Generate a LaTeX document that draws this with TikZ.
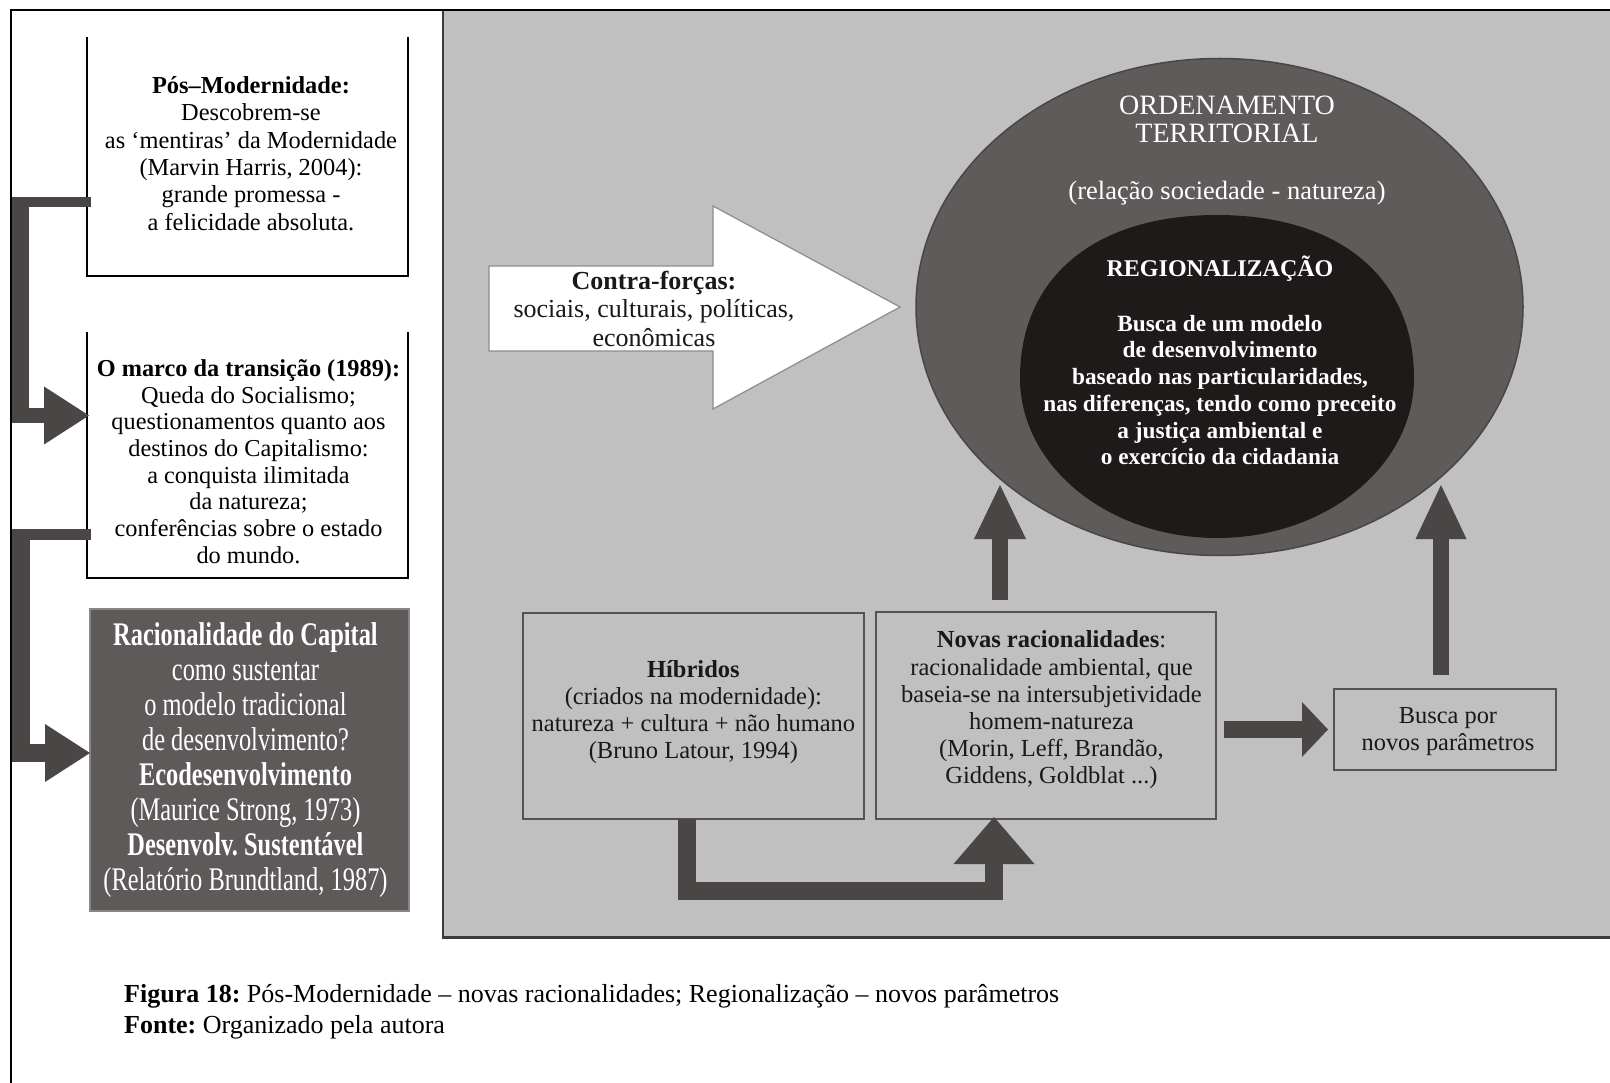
\documentclass[tikz,border=0pt]{standalone}
\usepackage{fontspec}
\setmainfont{Liberation Serif}
\newfontfamily\narrowserif[FakeStretch=0.74]{Liberation Serif}
\usetikzlibrary{arrows.meta,shapes.geometric,calc}
\frenchspacing

\definecolor{panelgray}{HTML}{C0C0C0}
\definecolor{paneledge}{HTML}{3C3A3A}
\definecolor{ringgray}{HTML}{5F5B5A}
\definecolor{ringedge}{HTML}{4A4646}
\definecolor{coreblack}{HTML}{1E1A1A}
\definecolor{bargray}{HTML}{4A4646}
\definecolor{capgray}{HTML}{5E5A59}
\definecolor{capedge}{HTML}{8A8686}
\definecolor{edgegray}{HTML}{575353}
\definecolor{arrowedge}{HTML}{8C8C8C}
\definecolor{inkdark}{HTML}{1A1818}

\newcommand\fsz[2]{\fontsize{#1}{#2}\selectfont}

\tikzset{
  txt/.style={inner sep=0pt, outer sep=0pt, align=center, text=inkdark},
  whitetxt/.style={inner sep=0pt, outer sep=0pt, align=center, text=white},
  openbox/.style={inner sep=0pt, outer sep=0pt, minimum width=321pt},
  openline/.style={draw=black, line width=2pt},
  panelbox/.style={draw=edgegray, line width=2pt, inner sep=0pt, outer sep=0pt},
  feed/.style={draw=bargray, line cap=butt},
  bararrow/.style={draw=bargray, fill=bargray, line cap=butt, line join=miter},
}

\begin{document}
\begin{tikzpicture}[x=1pt,y=-1pt]
\useasboundingbox (0,0) rectangle (1610,1083);
\fill[white] (0,0) rectangle (1610,1083);

% grey working area and page frame
\fill[panelgray] (443,10) rectangle (1610,937);
\draw[paneledge, line width=2pt] (443,10) -- (443,937);
\draw[paneledge, line width=3pt] (442,937) -- (1610,937);
\draw[black, line width=2pt] (11,1083) -- (11,10) -- (1610,10);

% territorial ordering (outer ring)
\node[ellipse, fill=ringgray, draw=ringedge, line width=1.5pt,
      minimum width=607pt, minimum height=497pt, inner sep=0pt, outer sep=0pt]
      (ordem) at (1219.5,307) {};
% regionalisation core: fuller at the top than at the bottom
\fill[coreblack] (1414,378)
  .. controls (1414,277) and (1339,215) .. (1217,215)
  .. controls (1095,215) and (1020,277) .. (1020,378)
  .. controls (1020,466) and (1108,538) .. (1217,538)
  .. controls (1326,538) and (1414,466) .. (1414,378) -- cycle;

% counter-forces block arrow
\coordinate (cftip) at ([xshift=-16pt]ordem.west);
\filldraw[fill=white, draw=arrowedge, line width=1.2pt, line join=miter]
  (cftip) -- ++(-187,-101) -- ++(0,60) -- ++(-224,0) -- ++(0,85)
  -- ++(224,0) -- ++(0,58) -- cycle;
\node[txt, font=\fsz{26}{28.5}] (contra) at (654,308.5)
  {\textbf{Contra-forças:}\\sociais, culturais, políticas,\\econômicas};

% left column
\node[openbox, minimum height=239pt] (pomo) at (247.5,156.5) {};
\draw[openline] (pomo.north west) -- (pomo.south west) -- (pomo.south east) -- (pomo.north east);
\node[txt, text=black, font=\fsz{24.4}{27.4}] (pomotxt) at (251,153.5)
  {\textbf{Pós–Modernidade:}\\Descobrem-se\\as ‘mentiras’ da Modernidade\\(Marvin Harris, 2004):\\grande promessa -\\a felicidade absoluta.};

\node[openbox, minimum height=246pt] (marco) at (247.5,455) {};
\draw[openline] (marco.north west) -- (marco.south west) -- (marco.south east) -- (marco.north east);
\node[txt, text=black, font=\fsz{24.3}{26.7}] (marcotxt) at (248.5,461.5)
  {\textbf{O marco da transição (1989):}\\Queda do Socialismo;\\questionamentos quanto aos\\destinos do Capitalismo:\\a conquista ilimitada\\da natureza;\\conferências sobre o estado\\do mundo.};

\node[draw=capedge, fill=capgray, line width=2pt, minimum width=319pt, minimum height=302pt,
      inner sep=0pt, outer sep=0pt] (capital) at (249.5,760) {};
\node[whitetxt, font=\narrowserif\fsz{33}{35.1}] (capitaltxt) at (245.5,760)
  {\textbf{Racionalidade do Capital}\\como sustentar\\o modelo tradicional\\de desenvolvimento?\\\textbf{Ecodesenvolvimento}\\(Maurice Strong, 1973)\\\textbf{Desenvolv. Sustentável}\\(Relatório Brundtland, 1987)};

% feeders down the left margin
\coordinate (f1top) at (20.5,202);
\coordinate (f1bot) at (20.5,415.5);
\draw[feed, line width=10pt] ([xshift=4pt]pomo.west |- f1top) -- ([xshift=-8.5pt]f1top);
\draw[feed, line width=17pt] ([yshift=5pt]f1top) -- (f1bot);
\draw[feed, line width=15pt, -{Triangle[length=45pt,width=58pt,line width=0pt]}]
  ([xshift=-8.5pt]f1bot) -- ([xshift=2pt]marco.west |- f1bot);

\coordinate (f2top) at (21,534.5);
\coordinate (f2bot) at (21,753);
\draw[feed, line width=11pt] ([xshift=4pt]marco.west |- f2top) -- ([xshift=-9pt]f2top);
\draw[feed, line width=18pt] ([yshift=5.5pt]f2top) -- (f2bot);
\draw[feed, line width=18pt, -{Triangle[length=45pt,width=58pt,line width=0pt]}]
  ([xshift=-9pt]f2bot) -- (capital.west |- f2bot);

% lower row of boxes
\node[panelbox, minimum width=341pt, minimum height=206pt] (hyb) at (693.5,716) {};
\node[txt, font=\fsz{24.5}{27}] (hybtxt) at (693.4,712.4)
  {\textbf{Híbridos}\\(criados na modernidade):\\natureza + cultura + não humano\\(Bruno Latour, 1994)};

\node[panelbox, minimum width=340pt, minimum height=207pt] (novas) at (1046,715.5) {};
\node[txt, font=\fsz{24.5}{27.2}] (novastxt) at (1051.5,710)
  {\textbf{Novas racionalidades}:\\racionalidade ambiental, que\\baseia-se na intersubjetividade\\homem-natureza\\(Morin, Leff, Brandão,\\Giddens, Goldblat ...)};

\node[draw=edgegray, line width=1.5pt, minimum width=222pt, minimum height=81pt,
      inner sep=0pt, outer sep=0pt] (busca) at (1445,729.5) {};
\node[txt, font=\fsz{24.4}{27}] (buscatxt) at (1448,731.5) {Busca por\\novos parâmetros};

% block connectors
\coordinate (tipL) at (1000,485);
\coordinate (tipR) at (1441,485);
\coordinate (kbot) at (994,890.5);
\draw[bararrow, line width=16pt, -{Triangle[length=54pt,width=52pt,line width=0pt]}]
  ([yshift=12pt]novas.north -| tipL) -- (tipL);
\draw[bararrow, line width=16pt, -{Triangle[length=54pt,width=51pt,line width=0pt]}]
  ([yshift=14pt]busca.north -| tipR) -- (tipR);
\draw[bararrow, line width=17pt, -{Triangle[length=26pt,width=55pt,line width=0pt]}]
  ([xshift=8pt]novas.east |- busca.west) -- ([xshift=-6pt]busca.west);
\draw[feed, line width=18pt, line join=miter, -{Triangle[length=47pt,width=81pt,line width=0pt]}]
  ([xshift=-7pt]hyb.south) |- (kbot) -- ([yshift=2pt]kbot |- novas.south);

% texts inside the ellipses
\node[whitetxt, font=\fsz{28}{27.7}] (ordemtit) at (1227,119.7) {ORDENAMENTO\\TERRITORIAL};
\node[whitetxt, font=\fsz{26.5}{30}] (relacao) at (1227,193) {(relação sociedade - natureza)};
\node[whitetxt, font=\bfseries\fsz{24}{28}] (regtit) at (1220,269) {REGIONALIZAÇÃO};
\node[whitetxt, font=\bfseries\fsz{23.3}{26.7}] (regtxt) at (1220,390)
  {Busca de um modelo\\de desenvolvimento\\baseado nas particularidades,\\nas diferenças, tendo como preceito\\a justiça ambiental e\\o exercício da cidadania};

% caption
\node[anchor=west, inner sep=0pt, align=left, text=black, font=\fsz{26}{31}] (legenda) at (124,1011.5)
  {\textbf{Figura 18:} Pós-Modernidade – novas racionalidades; Regionalização – novos parâmetros\\
   \textbf{Fonte:} Organizado pela autora};
\end{tikzpicture}
\end{document}
